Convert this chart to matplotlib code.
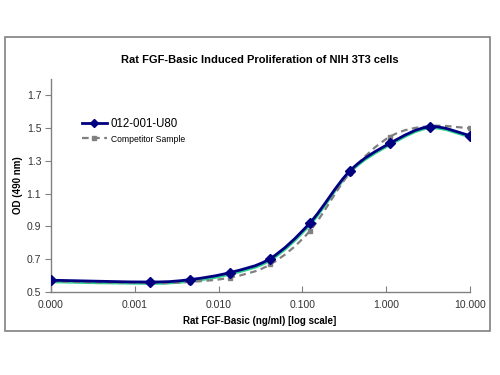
import numpy as np
import matplotlib
matplotlib.use("Agg")
import matplotlib.pyplot as plt
from matplotlib.path import Path
from matplotlib.patches import PathPatch, Rectangle
from matplotlib.lines import Line2D
from matplotlib.ticker import FixedLocator, FixedFormatter

plt.rcParams['font.family'] = ['Liberation Sans', 'DejaVu Sans']

# concentrations (ng/ml), first point is the zero dose drawn at the axis start
conc = [0.0001, 0.00152, 0.00457, 0.0137, 0.0412, 0.123, 0.370, 1.11, 3.33, 10.0]
od_main = [0.572, 0.561, 0.576, 0.619, 0.704, 0.922, 1.240, 1.408, 1.509, 1.454]
od_comp = [0.565, 0.555, 0.562, 0.588, 0.668, 0.873, 1.228, 1.448, 1.513, 1.499]
od_green = [0.563, 0.553, 0.567, 0.610, 0.695, 0.912, 1.232, 1.400, 1.502, 1.447]

xticks = [0.0001, 0.001, 0.01, 0.1, 1, 10]
xlabels = ['0.000', '0.001', '0.010', '0.100', '1.000', '10.000']
yticks = [0.5, 0.7, 0.9, 1.1, 1.3, 1.5, 1.7]

navy = '#000080'
grey = '#808080'
green = '#2fd08f'


def smooth_path(xs, ys):
    # excel style smoothed line, bezier segments in log-x space
    lx = np.log10(xs)
    ys = np.asarray(ys, float)
    n = len(lx)
    verts = [(xs[0], ys[0])]
    codes = [Path.MOVETO]
    for i in range(n - 1):
        i0 = max(i - 1, 0)
        i3 = min(i + 2, n - 1)
        c1x = lx[i] + (lx[i + 1] - lx[i0]) / 6
        c1y = ys[i] + (ys[i + 1] - ys[i0]) / 6
        c2x = lx[i + 1] - (lx[i3] - lx[i]) / 6
        c2y = ys[i + 1] - (ys[i3] - ys[i]) / 6
        verts += [(10 ** c1x, c1y), (10 ** c2x, c2y), (xs[i + 1], ys[i + 1])]
        codes += [Path.CURVE4] * 3
    return Path(verts, codes)


fig = plt.figure(figsize=(5, 3.75), dpi=100)
fig.patches.append(Rectangle((5 / 500, 1 - 331 / 375), 485 / 500, 294 / 375,
                             transform=fig.transFigure, fill=False,
                             ec=grey, lw=1.2))

ax = fig.add_axes([51 / 500, 1 - 292 / 375, 419 / 500, 213 / 375])
ax.set_xscale('log')
ax.set_xlim(0.0001, 10)
ax.set_ylim(0.5, 1.8)

ax.add_patch(PathPatch(smooth_path(conc, od_green), fill=False, ec=green, lw=2.2, zorder=2))
ax.add_patch(PathPatch(smooth_path(conc, od_comp), fill=False, ec=grey, lw=1.6,
                       ls=(0, (3, 2)), zorder=3))
ax.add_patch(PathPatch(smooth_path(conc, od_main), fill=False, ec=navy, lw=2.0, zorder=4))
ax.plot(conc, od_comp, ls='none', marker='s', ms=3.5, color=grey, zorder=5)
ax.plot(conc, od_main, ls='none', marker='D', ms=5.5, color=navy, zorder=6)

for s in ['top', 'right']:
    ax.spines[s].set_visible(False)
for s in ['left', 'bottom']:
    ax.spines[s].set_color(grey)
    ax.spines[s].set_linewidth(1.0)

ax.xaxis.set_major_locator(FixedLocator(xticks))
ax.xaxis.set_major_formatter(FixedFormatter(xlabels))
ax.xaxis.set_minor_locator(FixedLocator([]))
ax.set_yticks(yticks)
ax.set_yticklabels(['%.1f' % v for v in yticks])
ax.tick_params(axis='x', direction='in', length=4, color=grey, labelsize=7.5,
               labelcolor='#333333', pad=6)
ax.tick_params(axis='y', direction='out', length=4, color=grey, labelsize=7.5,
               labelcolor='#333333', pad=3)

fig.text(0.52, 1 - 60 / 375, 'Rat FGF-Basic Induced Proliferation of NIH 3T3 cells',
         ha='center', va='center', fontsize=8, fontweight='bold')
fig.text(0.52, 1 - 321 / 375, 'Rat FGF-Basic (ng/ml) [log scale]',
         ha='center', va='center', fontsize=7, fontweight='bold')
fig.text(0.036, 1 - 185 / 375, 'OD (490 nm)', rotation=90,
         ha='center', va='center', fontsize=7, fontweight='bold')

h1 = Line2D([], [], color=navy, lw=2.0, marker='D', ms=4)
h2 = Line2D([], [], color=grey, lw=1.6, ls=(0, (3, 2)), marker='s', ms=3)
leg = ax.legend([h1, h2], ['012-001-U80', 'Competitor Sample'],
                loc='upper left', bbox_to_anchor=(76 / 500, 1 - 112 / 375),
                bbox_transform=fig.transFigure, frameon=False, fontsize=8.3,
                handlelength=2.2, handletextpad=0.3, borderpad=0, labelspacing=0.35)
leg.get_texts()[1].set_fontsize(6.2)

fig.savefig('out.png', dpi=100)
